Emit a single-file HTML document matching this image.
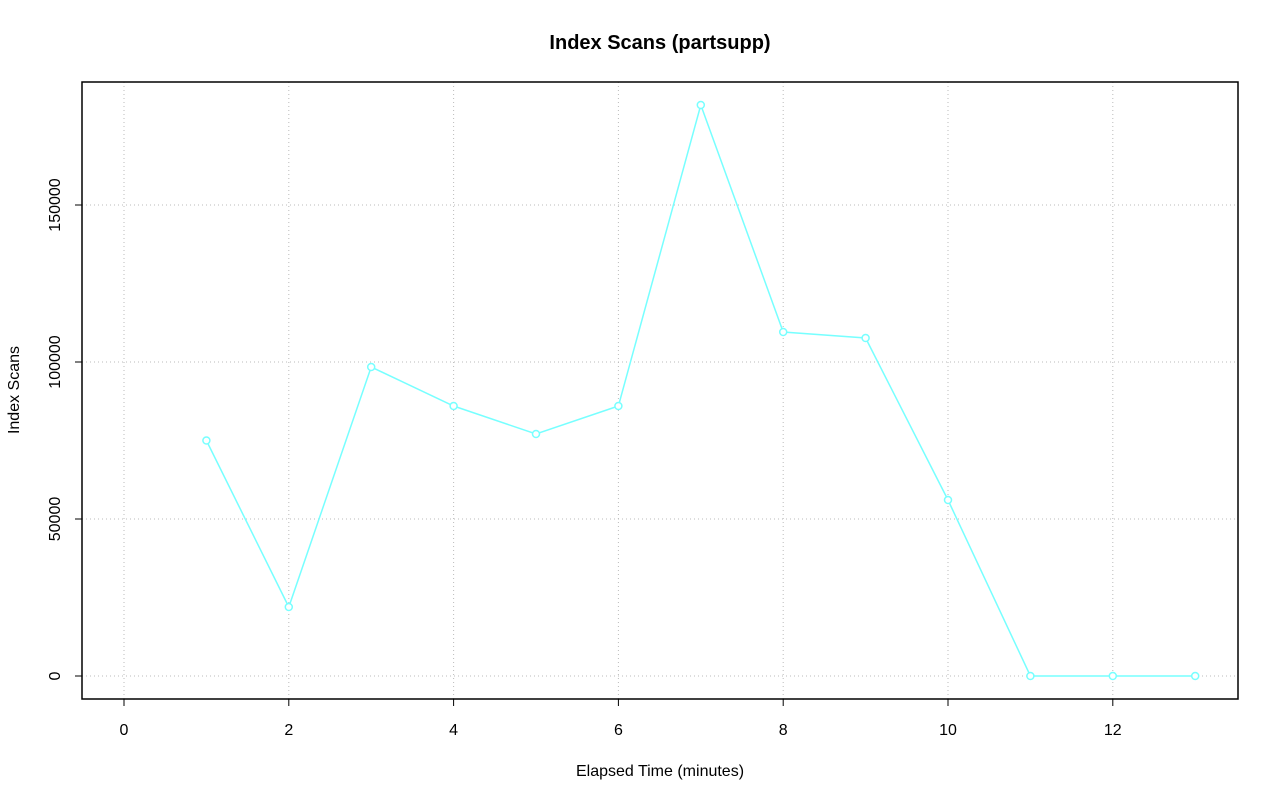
<!DOCTYPE html>
<html><head><meta charset="utf-8"><style>html,body{margin:0;padding:0;background:#fff}</style></head>
<body>
<svg width="1280" height="801" xmlns="http://www.w3.org/2000/svg" font-family="Liberation Sans, sans-serif">
<rect width="1280" height="801" fill="#fff"/>
<g stroke="#bbb" stroke-width="1" stroke-dasharray="1,3">
<line x1="124" y1="82" x2="124" y2="699"/><line x1="288.8" y1="82" x2="288.8" y2="699"/>
<line x1="453.6" y1="82" x2="453.6" y2="699"/><line x1="618.4" y1="82" x2="618.4" y2="699"/>
<line x1="783.2" y1="82" x2="783.2" y2="699"/><line x1="948" y1="82" x2="948" y2="699"/>
<line x1="1112.8" y1="82" x2="1112.8" y2="699"/>
<line x1="82" y1="676" x2="1238" y2="676"/><line x1="82" y1="519" x2="1238" y2="519"/>
<line x1="82" y1="362" x2="1238" y2="362"/><line x1="82" y1="205" x2="1238" y2="205"/>
</g>
<rect x="82" y="82" width="1156" height="617" fill="none" stroke="#000" stroke-width="1.5"/>
<g stroke="#000" stroke-width="1">
<line x1="124" y1="699" x2="124" y2="706"/><line x1="288.8" y1="699" x2="288.8" y2="706"/>
<line x1="453.6" y1="699" x2="453.6" y2="706"/><line x1="618.4" y1="699" x2="618.4" y2="706"/>
<line x1="783.2" y1="699" x2="783.2" y2="706"/><line x1="948" y1="699" x2="948" y2="706"/>
<line x1="1112.8" y1="699" x2="1112.8" y2="706"/>
<line x1="75" y1="676" x2="82" y2="676"/><line x1="75" y1="519" x2="82" y2="519"/>
<line x1="75" y1="362" x2="82" y2="362"/><line x1="75" y1="205" x2="82" y2="205"/>
</g>
<g font-size="16" text-anchor="middle" fill="#000">
<text x="124" y="735">0</text><text x="288.8" y="735">2</text><text x="453.6" y="735">4</text>
<text x="618.4" y="735">6</text><text x="783.2" y="735">8</text><text x="948" y="735">10</text>
<text x="1112.8" y="735">12</text>
<text transform="translate(60,676) rotate(-90)">0</text>
<text transform="translate(60,519) rotate(-90)">50000</text>
<text transform="translate(60,362) rotate(-90)">100000</text>
<text transform="translate(60,205) rotate(-90)">150000</text>
<text x="660" y="776">Elapsed Time (minutes)</text>
<text transform="translate(19,390) rotate(-90)">Index Scans</text>
</g>
<text x="660" y="49" font-size="20" font-weight="bold" text-anchor="middle">Index Scans (partsupp)</text>
<polyline fill="none" stroke="#7ff" stroke-width="1.5" points="206.4,440.5 288.8,607 371.2,367 453.6,406 536,434 618.4,406 700.8,105 783.2,332 865.6,338 948,500 1030.4,676 1112.8,676 1195.2,676"/>
<g fill="#fff" stroke="#7ff" stroke-width="1.5">
<circle cx="206.4" cy="440.5" r="3.5"/><circle cx="288.8" cy="607" r="3.5"/><circle cx="371.2" cy="367" r="3.5"/>
<circle cx="453.6" cy="406" r="3.5"/><circle cx="536" cy="434" r="3.5"/><circle cx="618.4" cy="406" r="3.5"/>
<circle cx="700.8" cy="105" r="3.5"/><circle cx="783.2" cy="332" r="3.5"/><circle cx="865.6" cy="338" r="3.5"/>
<circle cx="948" cy="500" r="3.5"/><circle cx="1030.4" cy="676" r="3.5"/><circle cx="1112.8" cy="676" r="3.5"/>
<circle cx="1195.2" cy="676" r="3.5"/>
</g>
</svg>
</body></html>
